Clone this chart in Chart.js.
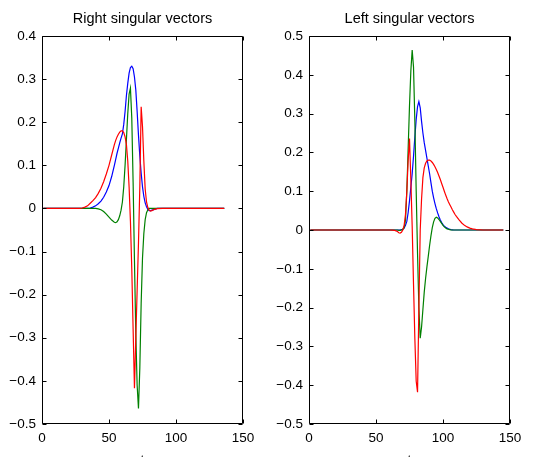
<!DOCTYPE html>
<html><head><meta charset="utf-8">
<script src="https://cdn.jsdelivr.net/npm/chart.js@4.4.0/dist/chart.umd.min.js"></script>
<style>
html,body{margin:0;padding:0;background:#fff;overflow:hidden}
#wrap{position:relative;width:549px;height:457px;overflow:hidden;background:#fff}
canvas{position:absolute;top:0}
</style></head><body>
<div id="wrap">
<canvas id="c1" width="267" height="470" style="left:0px"></canvas>
<canvas id="c2" width="282" height="470" style="left:267px"></canvas>
</div>
<script>
// ---- Data: left panel ("Right singular vectors") ----
const tL = [1,20,28,30,32,34,36,38,40,42,44,46,48,50,52,54,
  55,56,57,58,59,60,61,62,63,64,65,66,67,68,69,70,71,72,73,74,75,76,77,78,79,80,81,82,
  84,86,90,100,136];
const blueL = [0,0,0,0,0,0.0005,0.001,0.003,0.006,0.011,0.017,0.026,0.038,0.053,0.074,0.1,
  0.114,0.128,0.14,0.152,0.163,0.173,0.195,0.225,0.262,0.29,0.314,0.327,0.33,0.324,0.305,0.275,0.225,0.17,0.122,0.082,0.05,0.028,0.013,0.004,-0.002,-0.005,-0.005,-0.004,
  -0.002,0,0,0,0];
const redL = [0,0,0,0.001,0.003,0.006,0.012,0.018,0.025,0.035,0.047,0.062,0.08,0.1,0.124,0.148,
  0.158,0.166,0.172,0.177,0.18,0.18,0.176,0.166,0.148,0.11,0.05,-0.03,-0.14,-0.28,-0.417,-0.3,-0.19,-0.08,0.05,0.236,0.19,0.11,0.045,0.015,0.002,-0.004,-0.006,-0.005,
  -0.002,-0.0005,0,0,0];
const greenL = [0,0,0,0,0,0,0,0,0,-0.001,-0.003,-0.007,-0.013,-0.02,-0.027,-0.032,
  -0.033,-0.031,-0.026,-0.017,-0.004,0.015,0.05,0.1,0.16,0.22,0.265,0.279,0.21,0.06,-0.12,-0.29,-0.41,-0.464,-0.37,-0.22,-0.115,-0.058,-0.026,-0.01,-0.003,0,0,0,
  0,0,0,0,0];
const yTicksL = [0.4,0.3,0.2,0.1,0,-0.1,-0.2,-0.3,-0.4,-0.5];

// ---- Data: right panel ("Left singular vectors") ----
const tR = [1,30,50,60,62,64,
  66,67,68,69,70,71,72,73,74,75,76,77,78,79,80,81,82,83,84,85,86,87,88,89,90,
  91,92,93,94,95,96,97,98,99,100,101,102,103,104,105,106,107,108,109,110,
  112,114,116,118,120,122,125,130,145];
const blueR = [0,0,0,0,0,0,
  0,0,0,
  0.001,0.002,0.005,0.012,0.022,0.045,0.075,0.11,
  0.145,0.19,0.24,0.285,0.318,0.331,0.315,0.28,
  0.25,0.225,0.205,0.185,0.165,0.145,0.122,0.1,
  0.083,0.068,0.055,0.044,0.034,0.026,0.019,0.014,
  0.01,0.007,0.005,0.003,0.002,0.001,0.0005,0,
  0,0,
  0,0,0,0,0,0,0,0,0];
const redR = [0,0,0,0,-0.0005,-0.001,
  -0.004,-0.007,-0.008,
  -0.006,0,0.012,0.04,0.1,0.18,0.236,0.13,
  0.01,-0.14,-0.28,-0.39,-0.418,-0.2,0,0.08,
  0.135,0.16,0.172,0.178,0.18,0.18,0.178,0.174,
  0.169,0.163,0.156,0.148,0.139,0.13,0.12,0.11,
  0.1,0.09,0.081,0.073,0.066,0.059,0.052,0.046,
  0.04,0.035,
  0.026,0.018,0.012,0.008,0.005,0.003,0.001,0,0];
const greenR = [0,0,0,0,0,0,
  0,-0.001,-0.001,
  0,0.002,0.006,0.025,0.1,0.21,0.32,0.41,
  0.464,0.42,0.28,0.1,-0.06,-0.2,-0.279,-0.25,
  -0.205,-0.16,-0.125,-0.095,-0.068,-0.04,-0.015,0.006,
  0.021,0.03,0.033,0.031,0.027,0.022,0.017,0.012,
  0.008,0.005,0.003,0.002,0.001,0,0,0,
  0,0,
  0,0,0,0,0,0,0,0,0];
const yTicksR = [0.5,0.4,0.3,0.2,0.1,0,-0.1,-0.2,-0.3,-0.4,-0.5];
const xTicks = [0,50,100,150];

const FONT = "'Liberation Sans', Arial, Helvetica, sans-serif";
const fmt = v => (v < 0 ? '\u2212' : '') + String(Math.abs(v));

const frame = {
  id: 'frame',
  afterDraw(chart) {
    const {ctx, chartArea: a, scales: {x, y}} = chart;
    const L = Math.round(a.left) + 0.5, R = Math.round(a.right) - 0.5;
    const T = Math.round(a.top) + 0.5, B = Math.round(a.bottom) - 0.5;
    ctx.save();
    ctx.strokeStyle = '#000';
    ctx.lineWidth = 1;
    ctx.beginPath();
    ctx.rect(L, T, R - L, B - T);
    const tk = 4;
    x.ticks.forEach(t => {
      const p = Math.round(x.getPixelForValue(t.value)) + 0.5;
      ctx.moveTo(p, B); ctx.lineTo(p, B - tk);
      ctx.moveTo(p, T); ctx.lineTo(p, T + tk);
    });
    y.ticks.forEach(t => {
      const p = Math.round(y.getPixelForValue(t.value)) + 0.5;
      ctx.moveTo(L, p); ctx.lineTo(L + tk, p);
      ctx.moveTo(R, p); ctx.lineTo(R - tk, p);
    });
    ctx.stroke();
    ctx.restore();
  }
};

function makeChart(id, title, t, blue, green, red, yMin, yMax, yTicks, padRight) {
  const pts = arr => t.map((xv, i) => ({x: xv, y: arr[i]}));
  return new Chart(document.getElementById(id), {
    type: 'line',
    data: {datasets: [
      {label: 'v3', data: pts(red), borderColor: '#ff0000'},
      {label: 'v2', data: pts(green), borderColor: '#008000'},
      {label: 'v1', data: pts(blue), borderColor: '#0000ff'}
    ]},
    options: {
      responsive: false, animation: false, devicePixelRatio: 1,
      elements: {point: {radius: 0}, line: {borderWidth: 1.2, tension: 0, fill: false}},
      layout: {padding: {left: 0, right: padRight, top: 0, bottom: 0}},
      plugins: {
        legend: {display: false}, tooltip: {enabled: false},
        title: {display: true, text: title, fullSize: false, color: '#000',
          font: {family: FONT, size: 14.5, weight: 'normal'}, padding: {top: 10.6, bottom: 8}}
      },
      scales: {
        x: {type: 'linear', min: 0, max: 150,
          grid: {display: false, drawTicks: false}, border: {display: false},
          afterBuildTicks: s => { s.ticks = xTicks.map(v => ({value: v})); },
          afterFit: s => { s.height = 46; },
          ticks: {padding: 6, color: '#000', font: {family: FONT, size: 13.5}, maxRotation: 0, autoSkip: false, callback: v => fmt(v)},
          title: {display: true, text: 't', color: '#000', font: {family: FONT, size: 13.5}, padding: {top: 0, bottom: 2}}
        },
        y: {type: 'linear', min: yMin, max: yMax,
          grid: {display: false, drawTicks: false}, border: {display: false},
          afterBuildTicks: s => { s.ticks = yTicks.map(v => ({value: v})); },
          afterFit: s => { s.width = 42; },
          ticks: {padding: 6, color: '#000', font: {family: FONT, size: 13.5}, autoSkip: false, callback: v => fmt(v)}
        }
      }
    },
    plugins: [frame]
  });
}

makeChart('c1', 'Right singular vectors', tL, blueL, greenL, redL, -0.5, 0.4, yTicksL, 24);
makeChart('c2', 'Left singular vectors', tR, blueR, greenR, redR, -0.5, 0.5, yTicksR, 39);
</script>
</body></html>
